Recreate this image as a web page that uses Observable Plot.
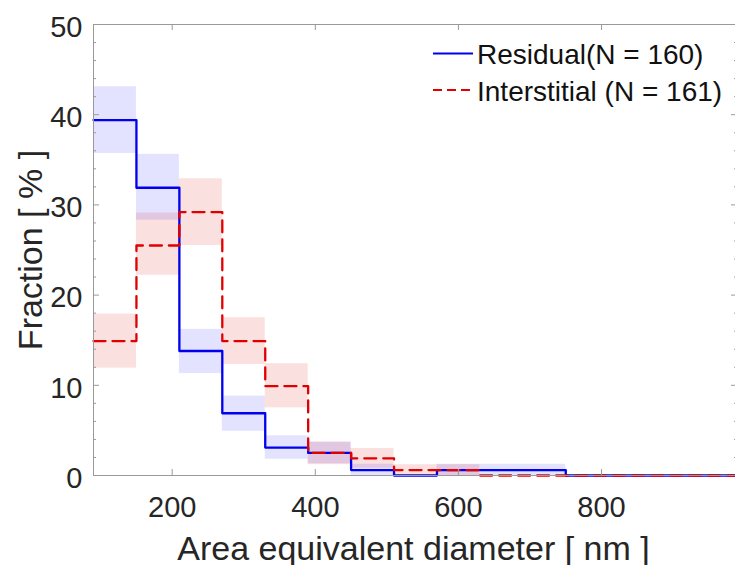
<!DOCTYPE html>
<html><head><meta charset="utf-8">
<script src="https://cdn.jsdelivr.net/npm/d3@7"></script>
<script src="https://cdn.jsdelivr.net/npm/@observablehq/plot@0.6"></script>
<style>body{margin:0;background:#fff;} svg{display:block}</style>
</head><body><div id="chart"></div>
<script>
const binEdges = [90,150,210,270,330,390,450,510,570,630,690,750,810,870,930,990];
const residual = [39.4,31.9,13.8,6.9,3.1,2.5,0.6,0,0.6,0.6,0.6,0,0,0,0];
const residualLo = [35.7,28.3,11.3,4.9,1.8,1.3,0,0,0,0,0,0,0,0,0];
const residualHi = [43.1,35.6,16.2,8.8,4.4,3.7,1.25,0,1.25,1.25,1.25,0,0,0,0];
const interstitial = [14.9,25.5,29.2,14.9,9.9,2.5,1.9,0.6,0.6,0,0,0,0,0,0];
const interstitialLo = [11.9,22.2,25.5,12.3,7.5,1.2,0.8,0,0,0,0,0,0,0,0];
const interstitialHi = [17.9,29.1,32.9,17.5,12.4,3.7,3.0,1.2,1.2,0,0,0,0,0,0];
const xTicks = [200,400,600,800];
const yTicks = [0,10,20,30,40,50];
const yMinorTicks = [2,4,6,8,12,14,16,18,22,24,26,28,32,34,36,38,42,44,46,48];
const seriesNames = ["Residual(N = 160)", "Interstitial (N = 161)"];
const xLabel = "Area equivalent diameter [ nm ]";
const yLabel = "Fraction [ % ]";

const W = 735, H = 565, mL = 93, mR = -2, mT = 24, mB = 90;
const fw = W - mL - mR, fh = H - mT - mB;
const blue = "#0000ee", red = "#e00000", axisGray = "#9a9a9a", textColor = "#262626";
const dash = "12,7";
const lw = 2.3;

function stepData(vals) {
  const pts = vals.map((v, i) => ({x: binEdges[i], y: v}));
  pts.push({x: binEdges[binEdges.length - 1], y: vals[vals.length - 1]});
  return pts;
}
function bandData(lo, hi) {
  const out = [];
  lo.forEach((l, i) => { if (hi[i] > l) out.push({x1: binEdges[i], x2: binEdges[i + 1], y1: l, y2: hi[i]}); });
  return out;
}

const plot = Plot.plot({
  width: W, height: H,
  marginLeft: mL, marginRight: mR, marginTop: mT, marginBottom: mB,
  x: {domain: [90, 990]},
  y: {domain: [0, 50]},
  style: {fontFamily: "'Liberation Sans', Arial, Helvetica, sans-serif", color: textColor, background: "#fff", overflow: "visible"},
  marks: [
    Plot.rect(bandData(residualLo, residualHi), {x1: "x1", x2: "x2", y1: "y1", y2: "y2", fill: "#0000ff", fillOpacity: 0.11}),
    Plot.rect(bandData(interstitialLo, interstitialHi), {x1: "x1", x2: "x2", y1: "y1", y2: "y2", fill: "#e00000", fillOpacity: 0.12}),
    Plot.line(stepData(residual), {x: "x", y: "y", curve: "step-after", stroke: blue, strokeWidth: lw}),
    Plot.line(stepData(interstitial), {x: "x", y: "y", curve: "step-after", stroke: red, strokeWidth: lw, strokeDasharray: dash}),
    Plot.frame({stroke: axisGray}),
    Plot.tickY(yTicks, {y: d => d, stroke: axisGray, insetRight: fw - 6}),
    Plot.tickY(yTicks, {y: d => d, stroke: axisGray, insetLeft: fw - 6}),
    Plot.tickY(yMinorTicks, {y: d => d, stroke: axisGray, insetRight: fw - 3}),
    Plot.tickY(yMinorTicks, {y: d => d, stroke: axisGray, insetLeft: fw - 3}),
    Plot.tickX(xTicks, {x: d => d, stroke: axisGray, insetTop: fh - 6}),
    Plot.tickX(xTicks, {x: d => d, stroke: axisGray, insetBottom: fh - 6}),
    Plot.axisX({ticks: xTicks, tickSize: 0, tickPadding: 21, fontSize: 29, label: null, fill: textColor}),
    Plot.axisY({ticks: yTicks, tickSize: 0, tickPadding: 11, fontSize: 29, label: null, fill: textColor, dy: 3}),
    Plot.text([yLabel], {text: d => d, frameAnchor: "left", rotate: -90, dx: -52, lineAnchor: "bottom", textAnchor: "middle", fontSize: 34, fill: textColor}),
    Plot.text([xLabel], {text: d => d, frameAnchor: "bottom", dy: 84, dx: -2, lineAnchor: "bottom", textAnchor: "middle", fontSize: 34, fill: textColor})
  ]
});

// legend
const svg = d3.select(plot);
const lg = svg.append("g").attr("text-anchor", "start");
const legendItems = [
  {name: seriesNames[0], color: blue, dash: null, ly: 53.5, ty: 64},
  {name: seriesNames[1], color: red, dash: "9,5", ly: 90, ty: 101}
];
legendItems.forEach(it => {
  lg.append("line").attr("x1", 433).attr("x2", 473).attr("y1", it.ly).attr("y2", it.ly)
    .attr("stroke", it.color).attr("stroke-width", 2).attr("stroke-dasharray", it.dash);
  lg.append("text").attr("x", 477).attr("y", it.ty).attr("font-size", 28).attr("fill", "#111")
    .attr("text-anchor", "start").text(it.name);
});

document.getElementById("chart").appendChild(plot);
</script>
</body></html>
